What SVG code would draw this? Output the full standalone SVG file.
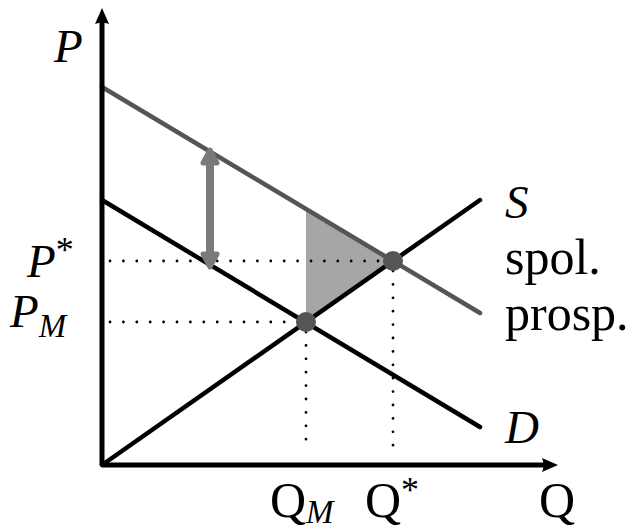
<svg xmlns="http://www.w3.org/2000/svg" width="638" height="530" viewBox="0 0 638 530">
<style>
.t{font-family:"Liberation Serif","Times New Roman",serif;font-size:50px;fill:#000}
.i{font-style:italic;font-size:47px}
.sub{font-size:33px;font-style:italic}
.dot{stroke:#000;stroke-width:2.8;stroke-linecap:round;stroke-dasharray:0 13.4;fill:none}
.ln{fill:none;stroke-width:4.5;stroke-linecap:round}
</style>
<rect width="638" height="530" fill="#fff"/>
<g id="welfare-loss">
<polygon points="306,322 306,209 393,261" fill="#a6a6a6"/>
</g>
<g id="guides">
<path class="dot" d="M110,261 H390"/>
<path class="dot" d="M110,322 H300"/>
<path class="dot" d="M306,332 V452"/>
<path class="dot" d="M393,271 V452"/>
</g>
<g id="connectors">
<path class="ln" d="M102,200 L480,427" stroke="#000"/>
<path class="ln" d="M102,465 L480,200" stroke="#000"/>
<path class="ln" d="M102,87 L480,313" stroke="#555"/>
<path d="M210,162 V255" stroke="#7a7a7a" stroke-width="8" fill="none"/>
<path d="M210,150 L217,163 L203,163 Z M210,267 L217,254 L203,254 Z" fill="#7a7a7a" stroke="#7a7a7a" stroke-width="5" stroke-linejoin="round"/>
</g>
<g id="axes">
<path d="M102,465 V18 M102,465 H548" stroke="#000" stroke-width="5" fill="none"/>
<path d="M102,8 L109,24 Q102,21 95,24 Z" fill="#000"/>
<path d="M558,465 L542,472 Q545,465 542,458 Z" fill="#000"/>
</g>
<g id="eq-market">
<circle cx="306" cy="322" r="10" fill="#555"/>
</g>
<g id="eq-optimum">
<circle cx="393" cy="261" r="10" fill="#555"/>
</g>
<g id="labels">
<text class="t" x="54" y="62"><tspan class="i">P</tspan></text>
<text class="t" x="27" y="277"><tspan class="i">P</tspan><tspan font-size="36" dy="-15">*</tspan></text>
<text class="t" x="10" y="327"><tspan class="i">P</tspan><tspan class="sub" dy="10">M</tspan></text>
<text class="t" x="270" y="517">Q<tspan class="sub" dy="6">M</tspan></text>
<text class="t" x="365" y="517">Q<tspan font-size="36" dy="-15">*</tspan></text>
<text class="t" x="539" y="517">Q</text>
<text class="t" x="505" y="218"><tspan class="i">S</tspan></text>
<text class="t" x="505" y="274">spol.</text>
<text class="t" x="505" y="330">prosp.</text>
<text class="t" x="505" y="443"><tspan class="i">D</tspan></text>
</g>
</svg>
